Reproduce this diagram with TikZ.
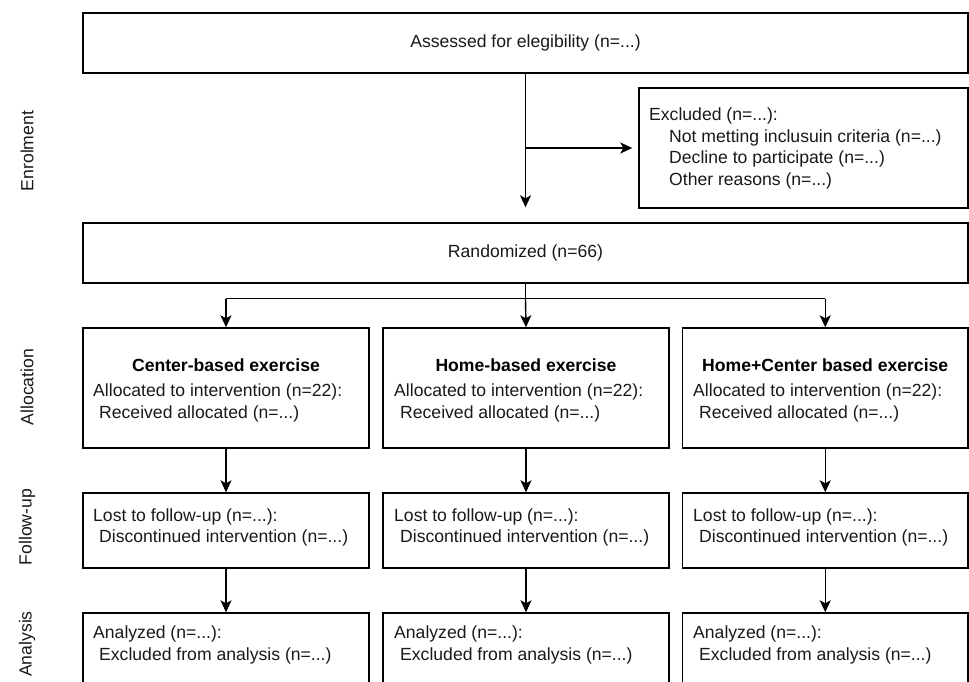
\documentclass[tikz,border=0pt]{standalone}
\usepackage{fontspec}
\setmainfont{Liberation Sans}
\usetikzlibrary{arrows.meta,calc}
\tikzset{
 box/.style={draw=black, line width=1.4pt, inner sep=0pt, font=\fontsize{17.6}{21.5}\selectfont, text=black!90},
 txt/.style={inner sep=0pt, align=left, anchor=west, font=\fontsize{17.6}{21.5}\selectfont, text=black!90},
 ttl/.style={inner sep=0pt, font=\fontsize{17.6}{21.5}\selectfont\bfseries, text=black},
 side/.style={inner sep=0pt, rotate=90, font=\fontsize{17.6}{21.5}\selectfont, text=black!90},
 arr/.style={line width=1.4pt, -{Stealth[length=12pt,width=11pt,inset=3pt]}},
 ln/.style={line width=1.4pt}
}
\begin{document}
\begin{tikzpicture}[x=1pt,y=-1pt]
\useasboundingbox (0,0) rectangle (969,681);
\clip (0,0) rectangle (969,681);
% side labels
\node[side] (sEn) at (27,151) {Enrolment};
\node[side] (sAl) at (27,387) {Allocation};
\node[side] (sFo) at (27,527) {Follow-up};
\node[side] (sAn) at (27,644) {Analysis};
% enrolment
\node[box, minimum width=885pt, minimum height=60pt] (top) at (525.5,43) {Assessed for elegibility (n=...)};
\node[box, minimum width=329pt, minimum height=120pt] (excl) at (803.5,148) {};
\node[txt] (exclt) at (649,148.5) {Excluded (n=...):\\\hspace*{20pt}Not metting inclusuin criteria (n=...)\\\hspace*{20pt}Decline to participate (n=...)\\\hspace*{20pt}Other reasons (n=...)};
\node[box, minimum width=885pt, minimum height=60pt] (rand) at (525.5,253) {Randomized (n=66)};
% allocation
\node[box, minimum width=286pt, minimum height=120pt] (a1) at (226,388) {};
\node[box, minimum width=286pt, minimum height=120pt] (a2) at (526,388) {};
\node[box, minimum width=285.5pt, minimum height=120pt] (a3) at (825.25,388) {};
\node[ttl] (a1t) at (226,365) {Center-based exercise};
\node[ttl] (a2t) at (526,365) {Home-based exercise};
\node[ttl] (a3t) at (825.25,365) {Home+Center based exercise};
\node[txt] (a1x) at (93,403) {Allocated to intervention (n=22):\\\hspace*{6pt}Received allocated (n=...)};
\node[txt] (a2x) at (394,403) {Allocated to intervention (n=22):\\\hspace*{6pt}Received allocated (n=...)};
\node[txt] (a3x) at (693,403) {Allocated to intervention (n=22):\\\hspace*{6pt}Received allocated (n=...)};
% follow-up
\node[box, minimum width=286pt, minimum height=75pt] (f1) at (226,530.5) {};
\node[box, minimum width=286pt, minimum height=75pt] (f2) at (526,530.5) {};
\node[box, minimum width=285.5pt, minimum height=75pt] (f3) at (825.25,530.5) {};
\node[txt] (f1x) at (93,527.5) {Lost to follow-up (n=...):\\\hspace*{6pt}Discontinued intervention (n=...)};
\node[txt] (f2x) at (394,527.5) {Lost to follow-up (n=...):\\\hspace*{6pt}Discontinued intervention (n=...)};
\node[txt] (f3x) at (693,527.5) {Lost to follow-up (n=...):\\\hspace*{6pt}Discontinued intervention (n=...)};
% analysis
\node[box, minimum width=286pt, minimum height=107pt] (n1) at (226,666.5) {};
\node[box, minimum width=286pt, minimum height=107pt] (n2) at (526,666.5) {};
\node[box, minimum width=285.5pt, minimum height=107pt] (n3) at (825.25,666.5) {};
\node[txt] (n1x) at (93,645) {Analyzed (n=...):\\\hspace*{6pt}Excluded from analysis (n=...)};
\node[txt] (n2x) at (394,645) {Analyzed (n=...):\\\hspace*{6pt}Excluded from analysis (n=...)};
\node[txt] (n3x) at (693,645) {Analyzed (n=...):\\\hspace*{6pt}Excluded from analysis (n=...)};
% connectors
\draw[arr, shorten >=15pt] (top.south) -- (rand.north);
\coordinate (br) at (top.south |- excl.west);
\draw[arr, shorten >=6pt] (br) -- (excl.west);
\coordinate (split) at ($(rand.south)+(0,15)$);
\draw[ln] (rand.south) -- (split);
\draw[ln] (a1.north |- split) -- (a3.north |- split);
\draw[arr] (a1.north |- split) -- (a1.north);
\draw[arr] (split) -- (a2.north);
\draw[arr] (a3.north |- split) -- (a3.north);
\draw[arr] (a1.south) -- (f1.north);
\draw[arr] (a2.south) -- (f2.north);
\draw[arr] (a3.south) -- (f3.north);
\draw[arr] (f1.south) -- (n1.north);
\draw[arr] (f2.south) -- (n2.north);
\draw[arr] (f3.south) -- (n3.north);
\end{tikzpicture}
\end{document}
